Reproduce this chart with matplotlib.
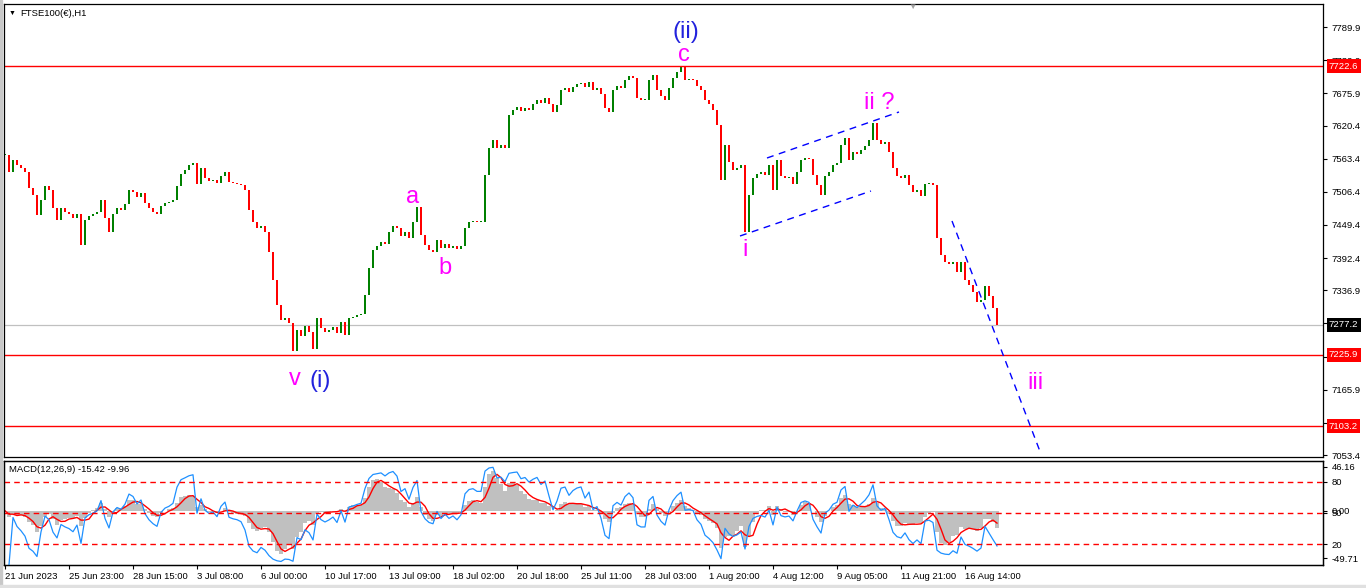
import numpy as np
import pandas as pd
import matplotlib
matplotlib.use("Agg")
import matplotlib.pyplot as plt
import matplotlib.transforms as mtransforms

plt.rcParams['font.family'] = ['Liberation Sans', 'DejaVu Sans']

# FTSE100 H1 closes, one reading every 4th hourly bar (21 Jun -> 16 Aug 2023)
closes = [
    7570, 7540, 7561, 7552, 7547, 7540, 7513, 7501, 7466, 7492,
    7516, 7509, 7478, 7458, 7478, 7472, 7468, 7461, 7468, 7415,
    7458, 7465, 7468, 7472, 7492, 7461, 7437, 7468, 7478, 7475,
    7485, 7509, 7506, 7497, 7504, 7487, 7478, 7472, 7468, 7482,
    7487, 7489, 7492, 7516, 7537, 7544, 7552, 7556, 7520, 7547,
    7530, 7525, 7527, 7521, 7534, 7540, 7523, 7521, 7520, 7518,
    7509, 7475, 7454, 7444, 7448, 7437, 7403, 7355, 7312, 7286,
    7289, 7281, 7232, 7269, 7258, 7275, 7265, 7235, 7289, 7272,
    7265, 7269, 7274, 7263, 7282, 7260, 7289, 7291, 7294, 7296,
    7329, 7375, 7406, 7413, 7420, 7417, 7437, 7448, 7444, 7430,
    7437, 7427, 7454, 7480, 7432, 7415, 7406, 7403, 7423, 7410,
    7417, 7410, 7413, 7408, 7413, 7444, 7454, 7456, 7454, 7454,
    7535, 7582, 7596, 7582, 7587, 7582, 7639, 7647, 7652, 7645,
    7651, 7647, 7657, 7664, 7659, 7668, 7657, 7644, 7656, 7682,
    7685, 7678, 7687, 7692, 7694, 7687, 7695, 7682, 7685, 7675,
    7651, 7644, 7682, 7688, 7685, 7699, 7706, 7702, 7668, 7664,
    7664, 7699, 7707, 7682, 7671, 7664, 7685, 7702, 7713, 7721,
    7699, 7700, 7699, 7688, 7682, 7664, 7657, 7647, 7621, 7527,
    7587, 7558, 7544, 7547, 7552, 7437, 7501, 7530, 7537, 7540,
    7535, 7552, 7509, 7561, 7534, 7530, 7532, 7520, 7540, 7561,
    7565, 7563, 7535, 7518, 7501, 7534, 7540, 7552, 7556, 7587,
    7599, 7561, 7575, 7571, 7578, 7585, 7596, 7624, 7596, 7589,
    7592, 7575, 7547, 7534, 7530, 7535, 7518, 7506, 7509, 7499,
    7520, 7521, 7518, 7427, 7398, 7386, 7382, 7386, 7368, 7386,
    7355, 7346, 7334, 7317, 7320, 7344, 7327, 7306, 7277.2,
]

time_labels = ["21 Jun 2023", "25 Jun 23:00", "28 Jun 15:00", "3 Jul 08:00",
               "6 Jul 00:00", "10 Jul 17:00", "13 Jul 09:00", "18 Jul 02:00",
               "20 Jul 18:00", "25 Jul 11:00", "28 Jul 03:00", "1 Aug 20:00",
               "4 Aug 12:00", "9 Aug 05:00", "11 Aug 21:00", "16 Aug 14:00"]
label_every = 16  # samples between time labels

price_ticks = [7789.9, 7732.9, 7675.9, 7620.4, 7563.4, 7506.4, 7449.4,
               7392.4, 7336.9, 7279.9, 7222.9, 7165.9, 7108.9, 7053.4]
levels = [7722.6, 7225.9, 7103.2]
last_price = 7277.2

# wave labels: (text, sample index, price, colour)
wave_labels = [
    ("(ii)", 170.3, 7781, '#2222dd'),
    ("c", 169.8, 7742, '#ff00ff'),
    ("a", 102.0, 7497, '#ff00ff'),
    ("b", 110.0, 7375, '#ff00ff'),
    ("v", 72.5, 7184, '#ff00ff'),
    ("(i)", 78.8, 7181, '#2222dd'),
    ("i", 185.0, 7406, '#ff00ff'),
    ("ii ?", 218.5, 7659, '#ff00ff'),
    ("iii", 257.5, 7177, '#ff00ff'),
]

# analyst trendlines: ((start idx, start price), (end idx, end price))
trendlines = [
    ((183.75, 7430.3), (216.5, 7507.7)),
    ((190.5, 7564.5), (223.5, 7643.7)),
    ((236.75, 7456.1), (259.0, 7055.1)),
]

macd_ticks = [46.16, 0.0, -49.71]
osc_levels = [80, 50, 20]

# ---- figure layout (pixel boxes) ----
W, H = 1366, 588
def box(l, t, r, b):
    return [l / W, 1 - b / H, (r - l) / W, (b - t) / H]

fig = plt.figure(figsize=(W / 100, H / 100), dpi=100)
ax = fig.add_axes(box(4, 4, 1323, 457))
mx = fig.add_axes(box(4, 461, 1323, 565), sharex=ax)
fs = 6.8

c = np.array(closes, dtype=float)
o = np.r_[c[0], c[:-1]]
x = np.arange(len(c))
up = c >= o
lo = np.minimum(o, c)
hgt = np.maximum(np.abs(c - o), 1.5)
ax.bar(x[up], hgt[up], bottom=lo[up], width=0.6, color='#008000', linewidth=0)
ax.bar(x[~up], hgt[~up], bottom=lo[~up], width=0.6, color='#ff0000', linewidth=0)

for lv in levels:
    ax.axhline(lv, color='#ff0000', lw=1.0)
ax.axhline(last_price, color='#c0c0c0', lw=0.9, zorder=0)

for (x0, y0), (x1, y1) in trendlines:
    ax.plot([x0, x1], [y0, y1], color='#0000ff', lw=1.0, ls=(0, (5, 4)))

for txt, xi, yp, col in wave_labels:
    ax.text(xi, yp, txt, color=col, fontsize=17, ha='center', va='center')

ax.set_xlim(-0.25, 329.5)
ax.set_ylim(7050.0, 7829.5)
ax.yaxis.tick_right()
ax.set_yticks(price_ticks)
ax.set_yticklabels([f"{t:.1f}" for t in price_ticks])
ax.tick_params(axis='y', length=3, pad=3, labelsize=fs)
ax.tick_params(axis='x', bottom=False, labelbottom=False)

trans = mtransforms.blended_transform_factory(ax.transAxes, ax.transData)
for lv in levels:
    ax.text(1.0045, lv, f"{lv:.1f}", transform=trans, color='white', fontsize=fs,
            va='center', ha='left',
            bbox=dict(boxstyle='square,pad=0.25', fc='#ff0000', ec='none'))
ax.text(1.0045, last_price, f"{last_price:.1f}", transform=trans, color='white',
        fontsize=fs, va='center', ha='left',
        bbox=dict(boxstyle='square,pad=0.25', fc='black', ec='none'))

# ---- MACD window (sample = 4 hourly bars, so periods are scaled by 1/4) ----
s = pd.Series(c)
macd = s.ewm(span=3, adjust=False).mean() - s.ewm(span=6.5, adjust=False).mean()
signal = macd.rolling(3, min_periods=1).mean()
delta = s.diff()
gain = delta.where(delta > 0, 0.0).ewm(alpha=1 / 6, adjust=False).mean()
loss = (-delta.where(delta < 0, 0.0)).ewm(alpha=1 / 6, adjust=False).mean()
rsi = 100 - 100 / (1 + gain / loss)

mx.bar(x, macd, width=1.05, color='#c0c0c0', linewidth=0)
mx.plot(x, signal, color='#ff0000', lw=1.0)
mx.set_ylim(-57.08, 52.48)

ox = mx.twinx()
ox.plot(x, rsi, color='#1e90ff', lw=0.9)
for lv in osc_levels:
    ox.axhline(lv, color='#ff0000', lw=1.0, ls=(0, (4, 3)))
ox.set_ylim(-0.3, 100.3)
ox.set_yticks(osc_levels)
ox.set_yticklabels([str(v) for v in osc_levels])
ox.tick_params(axis='y', length=3, pad=3, labelsize=fs)

mx.yaxis.tick_right()
mx.set_yticks(macd_ticks)
mx.set_yticklabels([f"{t:.2f}" for t in macd_ticks])
mx.tick_params(axis='y', length=3, pad=3, labelsize=fs)

mx.set_xticks(np.arange(len(time_labels)) * label_every)
mx.set_xticklabels(time_labels, ha='left')
mx.tick_params(axis='x', length=3, pad=2, labelsize=fs)

mx.text(0.004, 0.923, "MACD(12,26,9) -15.42 -9.96", transform=mx.transAxes,
        fontsize=fs, va='center', ha='left')

for a in (ax, mx, ox):
    for sp in a.spines.values():
        sp.set_color('black')
        sp.set_linewidth(0.9)

fig.text(9 / W, 1 - 13 / H, "\u25BC", fontsize=5, va='center', ha='left')
fig.text(20 / W, 1 - 13 / H, "FTSE100(\u20ac),H1", fontsize=fs, va='center', ha='left')
fig.text(912 / W, 1 - 7 / H, "\u25BC", fontsize=6, color='#a0a0a0', va='center', ha='center')

fig.patches.append(plt.Rectangle((0, 0), 2 / W, 1, transform=fig.transFigure,
                                 color='#c8c8c8', zorder=-1))
fig.patches.append(plt.Rectangle((0, 0), 1, 3 / H, transform=fig.transFigure,
                                 color='#e0e0e0', zorder=-1))

fig.savefig("out.png", dpi=100)
